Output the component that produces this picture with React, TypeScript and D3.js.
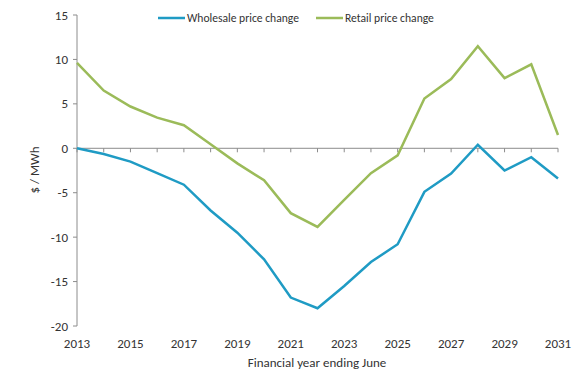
import React from "react";
import * as d3 from "d3";

const years = d3.range(2013, 2032);
const wholesale = [0, -0.65, -1.5, -2.8, -4.1, -7.0, -9.5, -12.5, -16.8, -18.0, -15.5, -12.8, -10.8, -4.9, -2.85, 0.4, -2.5, -1.0, -3.4];
const retail = [9.6, 6.5, 4.7, 3.45, 2.6, 0.45, -1.7, -3.6, -7.3, -8.85, -5.8, -2.8, -0.8, 5.6, 7.8, 11.5, 7.9, 9.45, 1.5];
const yTicks = [15, 10, 5, 0, -5, -10, -15, -20];
const xLabels = [2013, 2015, 2017, 2019, 2021, 2023, 2025, 2027, 2029, 2031];

const W = 586, H = 378;
const FONT = "Carlito, Calibri, 'Open Sans', sans-serif";

export default function App() {
  const x = d3.scaleLinear().domain([2013, 2031]).range([77, 558]);
  const y = d3.scaleLinear().domain([-20, 15]).range([326, 15]);
  const line = d3.line<number>().x((_, i) => x(years[i])).y((d) => y(d));
  const axisColor = "#8c8c8c";
  const blue = "#1f9bc4";
  const green = "#9bbb59";
  return (
    <svg width={W} height={H} style={{ position: "absolute", left: 0, top: 0, fontFamily: FONT }}>
      <rect width={W} height={H} fill="#fff" />
      <line x1={x(2013)} x2={x(2013)} y1={y(15)} y2={y(-20)} stroke={axisColor} />
      {yTicks.map((t) => (
        <g key={t}>
          <line x1={x(2013) - 4} x2={x(2013)} y1={y(t)} y2={y(t)} stroke={axisColor} />
          <text x={x(2013) - 9} y={y(t)} dy="0.35em" textAnchor="end" fontSize={13} fill="#333">{t}</text>
        </g>
      ))}
      <line x1={x(2013)} x2={x(2031)} y1={y(0)} y2={y(0)} stroke={axisColor} />
      {years.map((yr) => (
        <line key={yr} x1={x(yr)} x2={x(yr)} y1={y(0)} y2={y(0) + 4} stroke={axisColor} />
      ))}
      {xLabels.map((yr) => (
        <text key={yr} x={x(yr)} y={348} textAnchor="middle" fontSize={13} fill="#333">{yr}</text>
      ))}
      <text x={317} y={367} textAnchor="middle" fontSize={13} fill="#333">Financial year ending June</text>
      <text transform={`translate(39,170) rotate(-90)`} textAnchor="middle" fontSize={13} fill="#333">$ / MWh</text>
      <path d={line(retail) || ""} fill="none" stroke={green} strokeWidth={2.5} strokeLinejoin="miter" />
      <path d={line(wholesale) || ""} fill="none" stroke={blue} strokeWidth={2.5} strokeLinejoin="miter" />
      <line x1={158} x2={185} y1={18} y2={18} stroke={blue} strokeWidth={2.5} />
      <text x={187} y={18} dy="0.35em" fontSize={11.6} fill="#333">Wholesale price change</text>
      <line x1={316} x2={343} y1={18} y2={18} stroke={green} strokeWidth={2.5} />
      <text x={345} y={18} dy="0.35em" fontSize={11.6} fill="#333">Retail price change</text>
    </svg>
  );
}
